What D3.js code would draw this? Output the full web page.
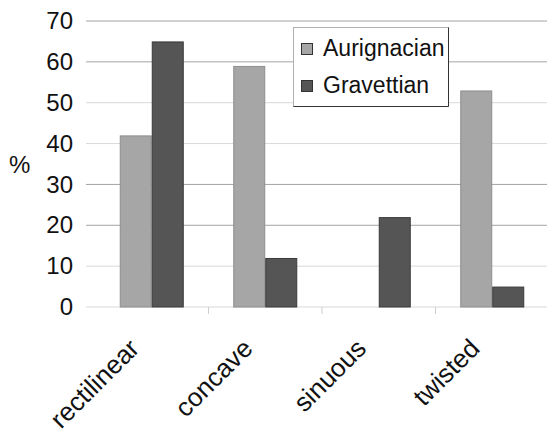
<!DOCTYPE html>
<html>
<head>
<meta charset="utf-8">
<script src="https://cdn.jsdelivr.net/npm/d3@7"></script>
<style>
  html, body { margin: 0; padding: 0; background: #fff; }
  svg { display: block; font-family: "Liberation Sans", Arial, sans-serif; }
</style>
</head>
<body>
<svg id="chart" width="547" height="429"></svg>
<script>
// Shape categories and the share (%) of each in the two assemblages
const categories = ["rectilinear", "concave", "sinuous", "twisted"];
const seriesNames = ["Aurignacian", "Gravettian"];
const aurignacian = [42, 59, 0, 53];
const gravettian = [65, 12, 22, 5];
const yTicks = [0, 10, 20, 30, 40, 50, 60, 70];

const seriesValues = [aurignacian, gravettian];
const fills = ["#a6a6a6", "#555555"];
const strokes = ["#8e8e8e", "#3a3a3a"];

const svg = d3.select("#chart");

const x = d3.scaleBand().domain(categories).range([95, 549]).padding(0);
const inner = d3.scaleBand().domain(seriesNames)
  .range([x.bandwidth() * 0.218, x.bandwidth() * 0.782]).padding(0);
const y = d3.scaleLinear().domain([0, 70]).range([307, 21]);

// Horizontal gridlines
svg.append("g").selectAll("line").data(yTicks).join("line")
  .attr("x1", 86).attr("x2", 547)
  .attr("y1", d => y(d)).attr("y2", d => y(d))
  .attr("stroke", d => (d === 70 || d === 60 || d === 30 || d === 20) ? "#a4a4a4" : "#d9d9d9")
  .attr("stroke-width", 1);

// Y axis tick labels (no axis line)
const yAxis = d3.axisLeft(y).tickValues(yTicks).tickSize(0).tickPadding(0);
const gy = svg.append("g").attr("transform", "translate(73,0)").call(yAxis);
gy.select(".domain").remove();
gy.selectAll("text")
  .attr("font-size", 24)
  .attr("font-family", "Liberation Sans, Arial, sans-serif")
  .attr("fill", "#111");

// Y axis title
svg.append("text").attr("x", 9).attr("y", 173)
  .attr("font-size", 24).attr("fill", "#111").text("%");

// Category axis: baseline with ticks between groups
const xAxis = d3.axisBottom(x).tickSize(0).tickFormat("");
svg.append("g").attr("transform", `translate(0,${y(0)})`).call(xAxis)
  .call(g => g.select(".domain").remove());
svg.append("g").selectAll("line").data(categories.slice(1)).join("line")
  .attr("x1", d => x(d)).attr("x2", d => x(d))
  .attr("y1", y(0)).attr("y2", y(0) + 7)
  .attr("stroke", "#cfcfcf");

// Bars
const groups = svg.append("g").selectAll("g").data(categories).join("g")
  .attr("transform", d => `translate(${x(d)},0)`);
groups.selectAll("rect")
  .data((c, i) => seriesNames.map((s, k) => ({ s, k, v: seriesValues[k][i] })).filter(d => d.v > 0))
  .join("rect")
  .attr("x", d => inner(d.s) + 0.5)
  .attr("width", inner.bandwidth() - 1)
  .attr("y", d => y(d.v) + 0.5)
  .attr("height", d => y(0) - y(d.v) - 0.5)
  .attr("fill", d => fills[d.k])
  .attr("stroke", d => strokes[d.k])
  .attr("stroke-width", 1);

// Rotated category labels
svg.append("g").selectAll("text").data(categories).join("text")
  .attr("transform", d => `translate(${x(d) + x.bandwidth() / 2 - 11},350) rotate(-45)`)
  .attr("text-anchor", "end")
  .attr("font-size", 26).attr("fill", "#111")
  .text(d => d);

// Legend
const legend = svg.append("g").attr("transform", "translate(293,27)");
legend.append("rect").attr("x", 0.5).attr("y", 0.5).attr("width", 155).attr("height", 79)
  .attr("fill", "#fff").attr("stroke", "#b0b0b0");
legend.append("path").attr("d", "M155.5,0.5 V79.5 H0.5")
  .attr("fill", "none").attr("stroke", "#333");
const items = legend.selectAll("g.item").data(seriesNames).join("g")
  .attr("class", "item")
  .attr("transform", (d, i) => `translate(8,${16 + i * 37})`);
items.append("rect").attr("x", 0.5).attr("y", 0.5).attr("width", 11).attr("height", 11)
  .attr("fill", (d, i) => fills[i]).attr("stroke", "#333");
items.append("text").attr("x", 22).attr("y", 12.5)
  .attr("font-size", 23).attr("fill", "#111").text(d => d);
</script>
</body>
</html>
